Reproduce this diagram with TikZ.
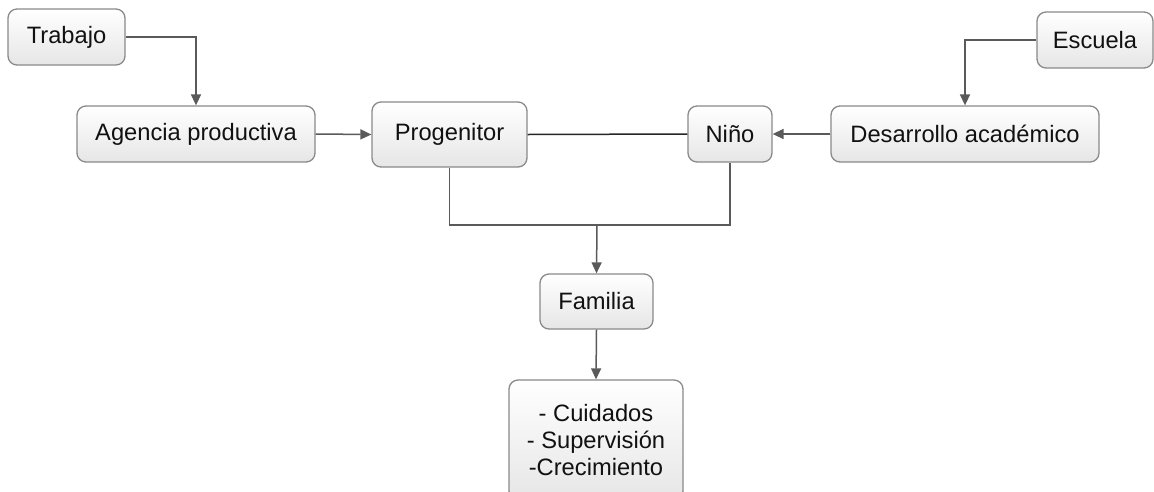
\documentclass[tikz,border=0pt]{standalone}
\usepackage{fontspec}
\setmainfont{Liberation Sans}
\usetikzlibrary{arrows.meta}
\definecolor{boxborder}{HTML}{8A8A8A}
\definecolor{boxbottom}{HTML}{E6E6E6}
\definecolor{linecol}{HTML}{5A5A5A}
\definecolor{txt}{HTML}{111111}
\tikzset{
  box/.style={draw=boxborder, line width=1.3pt, rounded corners=9pt, top color=white, bottom color=boxbottom,
    text=txt, font=\fontsize{23.7}{27}\selectfont, align=center, inner sep=0pt},
  conn/.style={draw=linecol, line width=1.5pt},
  arr/.style={conn, -{Triangle[length=11pt,width=10pt]}},
}
\begin{document}
\begin{tikzpicture}[x=1pt,y=-1pt]
\useasboundingbox (0,0) rectangle (1154,491);
\clip (0,0) rectangle (1154,491);
\fill[white] (0,0) rectangle (1154,491);
\node[box, minimum width=117pt, minimum height=56pt] (trabajo) at (66.5,37) {Trabajo};
\node[box, minimum width=238pt, minimum height=56pt] (agencia) at (196,134) {Agencia productiva};
\node[box, minimum width=155pt, minimum height=65pt] (prog) at (449.5,134.5) {Progenitor};
\node[box, minimum width=84pt, minimum height=56pt] (nino) at (730,134) {Niño};
\node[box, minimum width=268pt, minimum height=56pt] (desarrollo) at (965,134) {Desarrollo académico};
\node[box, minimum width=116pt, minimum height=56pt] (escuela) at (1095,40) {Escuela};
\node[box, minimum width=113pt, minimum height=55pt] (familia) at (596.5,301.5) {Familia};
\node[box, minimum width=174pt, minimum height=120pt] (lista) at (596,440) {- Cuidados\\- Supervisión\\-Crecimiento};
\coordinate (junta) at (597,225);
\draw[arr] (trabajo.east) -| (agencia.north);
\draw[arr] (agencia.east) -- (prog.west);
\draw[conn, draw=black!85] (prog.east) -- (nino.west);
\draw[arr] (desarrollo.west) -- (nino.east);
\draw[arr] (escuela.west) -| (desarrollo.north);
\draw[conn] (prog.south) |- (junta) -| (nino.south);
\draw[arr] (junta) -- (familia.north);
\draw[arr] (familia.south) -- (lista.north);
\end{tikzpicture}
\end{document}
